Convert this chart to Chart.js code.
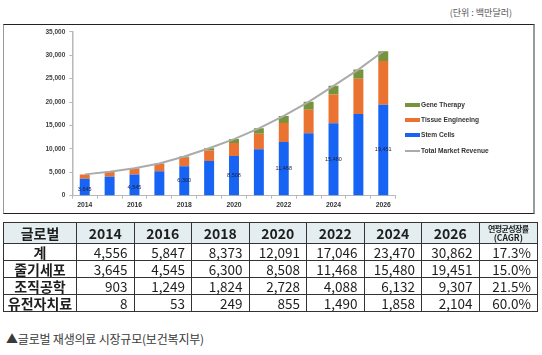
<!DOCTYPE html>
<html>
<head>
<meta charset="utf-8">
<script src="https://cdn.jsdelivr.net/npm/chart.js@4/dist/chart.umd.min.js"></script>
<style>
  html,body{margin:0;padding:0;background:#fff;width:542px;height:355px;overflow:hidden;position:relative;}
  #unit{position:absolute;left:440px;top:7px;width:72px;text-align:right;font-family:'Noto Sans CJK KR';font-size:9px;color:#555;white-space:nowrap;line-height:12px;}
  #box{position:absolute;left:3px;top:24px;width:532px;height:190px;box-sizing:border-box;border-top:1px solid #222;border-bottom:1px solid #222;border-left:1px solid #999;border-right:2px solid #9a9a9a;pointer-events:none;}
  #c{position:absolute;left:3px;top:24px;}
  #legend{position:absolute;left:405px;top:100px;font-family:'Liberation Sans',Arial,sans-serif;font-size:6.6px;font-weight:bold;color:#333;}
  .li{position:absolute;left:0;height:10px;white-space:nowrap;line-height:10px;}
  .sw{position:absolute;left:0;width:15px;}
  .lt{position:absolute;left:16px;top:0;}
  #t{position:absolute;left:3px;top:222px;width:534px;border-collapse:collapse;table-layout:fixed;font-family:'Noto Sans CJK KR';color:#1e1e1e;}
  #t th,#t td{border:1px solid #333;padding:0;overflow:hidden;white-space:nowrap;}
  #t th{height:20px;background:#e4eef0;font-weight:bold;font-size:14px;line-height:20px;text-align:center;}
  #t th.cg{line-height:8px;font-size:8.5px;}
  #t th.cg .k{font-size:8px;letter-spacing:-0.6px;}
  #t td{height:16px;font-size:13.5px;line-height:16px;text-align:right;padding-right:6px;}
  #t td.h{text-align:center;font-weight:bold;padding:0;font-size:14px;}
  #t tbody tr + tr td{border-top:1px solid #8a8a8a;}
  #cap{position:absolute;left:6px;top:330px;font-family:'Noto Sans CJK KR';font-size:12px;color:#3a3a3a;line-height:18px;white-space:nowrap;letter-spacing:-0.2px;}
</style>
</head>
<body>
<div id="unit">(단위 : 백만달러)</div>
<canvas id="c" width="532" height="190"></canvas>
<div id="box"></div>
<div id="legend"></div>
<table id="t"></table>
<div id="cap">▲글로벌 재생의료 시장규모(보건복지부)</div>
<script>
// ---- data (백만달러) ----
const years = [2014, 2015, 2016, 2017, 2018, 2019, 2020, 2021, 2022, 2023, 2024, 2025, 2026];
const stemCells   = [3645, 4050, 4545, 5200, 6300, 7400, 8508, 9900, 11468, 13350, 15480, 17450, 19451];
const tissueEng   = [903, 1060, 1249, 1550, 1824, 2250, 2728, 3350, 4088, 5000, 6132, 7550, 9307];
const geneTherapy = [8, 25, 53, 120, 249, 480, 855, 1150, 1490, 1700, 1858, 1950, 2104];
const totalMarket = [4556, 5135, 5847, 6870, 8373, 10130, 12091, 14400, 17046, 20050, 23470, 26950, 30862];
const yTicks = [0, 5000, 10000, 15000, 20000, 25000, 30000, 35000];
const tableYears = [2014, 2016, 2018, 2020, 2022, 2024, 2026];
const rowNames = ['계', '줄기세포', '조직공학', '유전자치료'];
const cagr = ['17.3%', '15.0%', '21.5%', '60.0%'];
const seriesNames = ['Gene Therapy', 'Tissue Engineeing', 'Stem Cells', 'Total Market Revenue'];

const COLORS = {stem:'#1764f4', tissue:'#ea7331', gene:'#77933c', total:'#ababab'};
const fmt = v => v.toLocaleString('en-US');

// ---- data labels on stem bars ----
const stemLabels = {
  id:'stemLabels',
  afterDatasetsDraw(chart){
    const ctx = chart.ctx;
    const meta = chart.getDatasetMeta(1);
    ctx.save();
    ctx.font = '5.5px "Liberation Sans", Arial, sans-serif';
    ctx.fillStyle = '#1c1c3c';
    ctx.textAlign = 'center';
    ctx.textBaseline = 'middle';
    meta.data.forEach((bar, i) => {
      if (years[i] % 2 !== 0) return;
      const y = (bar.y + bar.base) / 2 + (i < 3 ? 3 : 0);
      ctx.fillText(fmt(stemCells[i]), bar.x, y);
    });
    ctx.restore();
  }
};

new Chart(document.getElementById('c'), {
  type:'bar',
  data:{
    labels: years.map(String),
    datasets:[
      {type:'line', label:seriesNames[3], data:totalMarket, borderColor:COLORS.total, borderWidth:2, pointRadius:0, tension:0, stack:'line', order:0},
      {label:seriesNames[2], data:stemCells, backgroundColor:COLORS.stem, stack:'s', order:1},
      {label:seriesNames[1], data:tissueEng, backgroundColor:COLORS.tissue, stack:'s', order:1},
      {label:seriesNames[0], data:geneTherapy, backgroundColor:COLORS.gene, stack:'s', order:1}
    ]
  },
  options:{
    responsive:false, animation:false,
    layout:{padding:{top:7.7, right:139.3, left:0, bottom:0}},
    datasets:{bar:{categoryPercentage:0.4, barPercentage:1}},
    plugins:{legend:{display:false}, tooltip:{enabled:false}},
    scales:{
      x:{
        stacked:true,
        grid:{display:true, drawOnChartArea:false, drawTicks:true, tickLength:3, color:'#b8b8b8', offset:true},
        border:{color:'#b8b8b8', width:1},
        ticks:{autoSkip:false, maxRotation:0, padding:2, color:'#333', font:{family:'"Liberation Sans", Arial, sans-serif', size:6.8, weight:'bold'},
               callback:(v,i)=> years[i] % 2 === 0 ? String(years[i]) : ''},
        afterFit:s=>{s.height = 18.3;}
      },
      y:{
        stacked:true, min:yTicks[0], max:yTicks[yTicks.length-1],
        afterBuildTicks:s=>{s.ticks = yTicks.map(v=>({value:v}));},
        grid:{display:true, drawOnChartArea:false, drawTicks:true, tickLength:3, color:'#b8b8b8'},
        border:{color:'#b8b8b8', width:1.5},
        ticks:{padding:4, color:'#404040', font:{family:'"Liberation Sans", Arial, sans-serif', size:6.5, weight:'bold'}, callback:v=>fmt(v)},
        afterFit:s=>{s.width = 69.3;}
      }
    }
  },
  plugins:[stemLabels]
});

// ---- legend (HTML) ----
const legendColors = [COLORS.gene, COLORS.tissue, COLORS.stem, COLORS.total];
const legendEl = document.getElementById('legend');
seriesNames.forEach((name, i) => {
  const d = document.createElement('div');
  d.className = 'li';
  d.style.top = (i * 15.2) + 'px';
  const sw = document.createElement('span');
  sw.className = 'sw';
  const isLine = i === 3;
  sw.style.height = isLine ? '1.5px' : '4px';
  sw.style.top = isLine ? '4.5px' : '3px';
  sw.style.background = legendColors[i];
  const t = document.createElement('span');
  t.className = 'lt';
  t.textContent = name;
  d.appendChild(sw); d.appendChild(t);
  legendEl.appendChild(d);
});

// ---- table ----
const idx = tableYears.map(y => years.indexOf(y));
const rows = [totalMarket, stemCells, tissueEng, geneTherapy];
let html = '<colgroup><col style="width:73px">' + tableYears.map(()=>'<col style="width:57.5px">').join('') + '<col style="width:58.5px"></colgroup>';
html += '<thead><tr><th>글로벌</th>' + tableYears.map(y=>'<th>'+y+'</th>').join('') + '<th class="cg"><div class="k">연평균성장률</div><div>(CAGR)</div></th></tr></thead><tbody>';
rows.forEach((r, ri) => {
  html += '<tr><td class="h">' + rowNames[ri] + '</td>' + idx.map(i=>'<td>'+fmt(r[i])+'</td>').join('') + '<td>' + cagr[ri] + '</td></tr>';
});
html += '</tbody>';
document.getElementById('t').innerHTML = html;
</script>
</body>
</html>
